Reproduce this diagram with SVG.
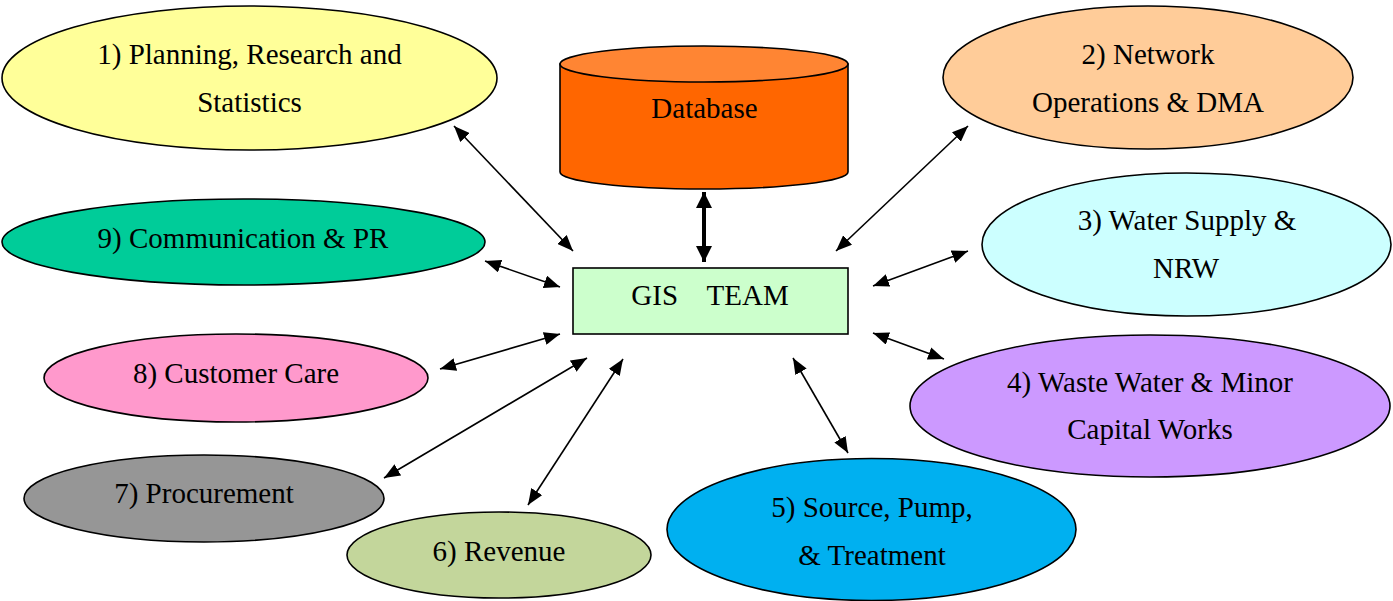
<svg xmlns="http://www.w3.org/2000/svg" width="1393" height="601" viewBox="0 0 1393 601">
<style>
.shape{stroke:#000;stroke-width:1.6}
.lbl{font-family:"Liberation Serif","Times New Roman",serif;font-size:29px;fill:#000;text-anchor:middle}
.conn{stroke:#000;stroke-width:1.6;fill:none;marker-start:url(#ah);marker-end:url(#ah)}
.conn-db{stroke:#000;stroke-width:4;fill:none;marker-start:url(#ahb);marker-end:url(#ahb)}
</style>
<defs>
<marker id="ah" markerUnits="userSpaceOnUse" markerWidth="17" markerHeight="13" refX="16" refY="6.5" orient="auto-start-reverse" viewBox="0 0 17 13">
<path d="M0,0 L16,6.5 L0,13 z" fill="#000"/>
</marker>
<marker id="ahb" markerUnits="userSpaceOnUse" markerWidth="17" markerHeight="17" refX="16" refY="8" orient="auto-start-reverse" viewBox="0 0 17 17">
<path d="M0,0 L16,8 L0,16 z" fill="#000"/>
</marker>
</defs>
<rect width="1393" height="601" fill="#fff"/>

<g id="connectors">
<line class="conn" x1="454" y1="126" x2="573" y2="251"/>
<line class="conn" x1="968" y1="126" x2="836" y2="251"/>
<line class="conn" x1="873" y1="286" x2="968" y2="251"/>
<line class="conn" x1="873" y1="333" x2="944" y2="359"/>
<line class="conn" x1="793" y1="358" x2="848" y2="453"/>
<line class="conn" x1="623" y1="359" x2="528" y2="505"/>
<line class="conn" x1="587" y1="358" x2="384" y2="478"/>
<line class="conn" x1="560" y1="334" x2="440" y2="369"/>
<line class="conn" x1="485" y1="261" x2="560" y2="287"/>
<line class="conn-db" x1="704" y1="192" x2="704" y2="262"/>
</g>

<g id="database">
<path class="shape" d="M560,64 L560,172 A144,17 0 0 0 848,172 L848,64 Z" fill="#FF6600"/>
<ellipse class="shape" cx="704" cy="64" rx="144" ry="18" fill="#FF8533"/>
<text class="lbl" x="704.5" y="118">Database</text>
</g>

<g id="gis-team">
<rect class="shape" x="573" y="268" width="275" height="66" fill="#CCFFCC"/>
<text class="lbl" x="710" y="305" xml:space="preserve">GIS    TEAM</text>
</g>

<g id="n1">
<ellipse class="shape" cx="249.5" cy="78" rx="247.5" ry="72" fill="#FFFF99"/>
<text class="lbl" x="249.5" y="64">1) Planning, Research and</text>
<text class="lbl" x="249.5" y="112">Statistics</text>
</g>

<g id="n2">
<ellipse class="shape" cx="1148" cy="77.5" rx="205" ry="71.5" fill="#FFCC99"/>
<text class="lbl" x="1148" y="64">2) Network</text>
<text class="lbl" x="1148" y="112">Operations &amp; DMA</text>
</g>

<g id="n3">
<ellipse class="shape" cx="1186.5" cy="244.5" rx="204.5" ry="71.5" fill="#CCFFFF"/>
<text class="lbl" x="1187" y="230">3) Water Supply &amp;</text>
<text class="lbl" x="1186" y="278">NRW</text>
</g>

<g id="n4">
<ellipse class="shape" cx="1150" cy="406" rx="240" ry="71" fill="#CC99FF"/>
<text class="lbl" x="1150" y="392">4) Waste Water &amp; Minor</text>
<text class="lbl" x="1150" y="439">Capital Works</text>
</g>

<g id="n5">
<ellipse class="shape" cx="871.5" cy="529.5" rx="204.5" ry="71" fill="#00B0F0"/>
<text class="lbl" x="872" y="517">5) Source, Pump,</text>
<text class="lbl" x="872" y="565">&amp; Treatment</text>
</g>

<g id="n6">
<ellipse class="shape" cx="499" cy="555" rx="152" ry="43" fill="#C3D69B"/>
<text class="lbl" x="499" y="561">6) Revenue</text>
</g>

<g id="n7">
<ellipse class="shape" cx="204" cy="498.5" rx="180" ry="43.5" fill="#969696"/>
<text class="lbl" x="204" y="503">7) Procurement</text>
</g>

<g id="n8">
<ellipse class="shape" cx="236" cy="378" rx="192" ry="44" fill="#FF99CC"/>
<text class="lbl" x="236" y="383">8) Customer Care</text>
</g>

<g id="n9">
<ellipse class="shape" cx="243.5" cy="242" rx="241.5" ry="43" fill="#00CC99"/>
<text class="lbl" x="243" y="248">9) Communication &amp; PR</text>
</g>
</svg>
